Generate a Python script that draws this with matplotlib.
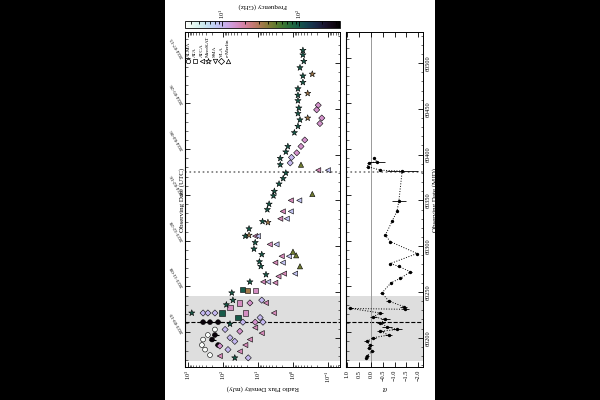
import matplotlib
matplotlib.use("Agg")
import matplotlib.pyplot as plt
from matplotlib.colors import LogNorm
from matplotlib.patches import Rectangle
from matplotlib.ticker import MultipleLocator, FixedLocator, LogLocator, NullFormatter

plt.rcParams["font.family"] = ["Liberation Serif", "DejaVu Serif"]
plt.rcParams["mathtext.fontset"] = "stix"
plt.rcParams["font.size"] = 4.5

# ---- flux density data (MJD, mJy, GHz) ----
star_mjd = [60514, 60509, 60502, 60495, 60486, 60479, 60472, 60465, 60459, 60451, 60445, 60438,
            60431, 60424, 60409, 60403, 60396, 60389, 60380, 60374, 60368, 60360, 60355, 60346,
            60340, 60327, 60319, 60311, 60304, 60297, 60291, 60283, 60278, 60269, 60261, 60249,
            60241, 60227, 60178, 60236, 60215]
star_flux = [0.52, 0.52, 0.49, 0.63, 0.52, 0.52, 0.72, 0.72, 0.72, 0.68, 0.72, 0.63,
             0.72, 0.91, 1.4, 1.6, 2.3, 2.3, 1.6, 1.9, 2.5, 3.4, 3.6, 4.8,
             5.4, 7.4, 18, 23, 12, 13, 7.8, 9.1, 8.3, 5.9, 17, 56,
             52, 780, 46, 80, 63]
star_freq = [97.5] * len(star_mjd)

star2_mjd = [60488, 60467, 60440, 60312, 60326]
star2_flux = [0.28, 0.38, 0.38, 18, 5.2]
star2_freq = [33] * len(star2_mjd)

vla_mjd = [60454, 60449, 60440, 60434, 60416, 60409, 60402, 60397, 60391,
           60227, 60227, 60227, 60222, 60217, 60217, 60217, 60209, 60207, 60200,
           60196, 60191, 60187, 60178, 60238, 60241]
vla_flux = [0.19, 0.21, 0.15, 0.17, 0.46, 0.59, 0.78, 1.1, 1.2,
            370, 270, 170, 8.7, 27, 12, 7.2, 87, 33, 63,
            46, 123, 72, 19, 17, 7.8]
vla_freq = [15, 15, 15, 15, 15, 15, 15, 10, 10,
            10, 10, 10, 10, 10, 15, 10, 10, 15, 10,
            10, 15, 10, 10, 15, 10]

atca_mjd = [60383, 60350, 60338, 60330, 60311, 60302, 60289, 60282, 60270, 60267, 60261, 60260,
            60383, 60350, 60338, 60330, 60311, 60302, 60289, 60282, 60270, 60261,
            60238, 60227, 60205, 60198, 60192, 60185, 60211, 60180]
atca_flux = [0.19, 1.15, 1.95, 2.3, 12, 4.6, 2.1, 3.2, 1.8, 2.6, 7.1, 3.2,
             0.10, 0.66, 1.15, 1.5, 10, 2.95, 1.3, 1.95, 0.87, 5.1,
             5.9, 3.5, 7.8, 17, 23, 33, 12, 123]
atca_freq = [17] * 12 + [9] * 10 + [17] * 8

tri_mjd = [60357, 60389, 60294, 60290, 60278]
tri_flux = [0.28, 0.59, 1.0, 0.81, 0.63]
tri_freq = [45] * len(tri_mjd)

ata_mjd = [60253, 60252, 60252, 60238, 60233, 60227, 60222, 60227]
ata_flux = [28, 20, 12, 33, 63, 107, 37, 23]
ata_freq = [97.5, 33, 16, 16, 16, 97.5, 97.5, 16]

alma_mjd = [60217, 60217, 60217, 60203, 60198, 60192]
alma_flux = [370, 235, 138, 170, 205, 138]
alma_ferr = [120, 80, 40, 40, 50, 30]
alma_freq = [300] * len(alma_mjd)

low_mjd = [60209, 60203, 60198, 60192, 60187, 60181]
low_flux = [170, 270, 370, 400, 325, 235]
low_freq = [3.5] * len(low_mjd)

# ---- spectral index data ----
alpha_mjd = [60396, 60392, 60391, 60387, 60383, 60382, 60349, 60338, 60327, 60312, 60305, 60292,
             60281, 60278, 60272, 60265, 60260, 60249, 60240, 60234, 60231, 60232, 60227, 60223,
             60220, 60216, 60212, 60209, 60207, 60203, 60200, 60196, 60192, 60189, 60185, 60180,
             60178]
alpha_val = [-0.14, -0.26, 0.10, 0.14, -0.40, -1.32, -1.18, -1.10, -0.89, -0.61, -0.82, -1.95,
             -0.82, -1.17, -1.67, -1.25, -0.85, -0.47, -0.75, -1.39, -1.46, 0.87, -0.40, -0.11,
             -0.61, -0.40, -0.68, -1.11, -0.40, -0.75, -0.11, 0.17, 0.03, 0.10, -0.04, 0.17,
             0.19]
alpha_err = [0.05, 0.35, 0.05, 0.05, 0.05, 0.66, 0.3, 0.05, 0.05, 0.05, 0.05, 0.05,
             0.05, 0.05, 0.05, 0.05, 0.05, 0.08, 0.1, 0.15, 0.15, 0.1, 0.1, 0.15,
             0.2, 0.15, 0.2, 0.2, 0.15, 0.15, 0.1, 0.1, 0.1, 0.08, 0.08, 0.08,
             0.05]

utc_mjd = [60206, 60256, 60306, 60356, 60406, 60456, 60506]
utc_labels = ["2023-09-19", "2023-11-08", "2023-12-28", "2024-02-16",
              "2024-04-06", "2024-05-26", "2024-07-15"]

legend_names = ["ALMA", "ATA", "ATCA", "MeerKAT", "SMA", "VLA", "e-Merlin"]
legend_markers = ["o", "s", "<", "*", "v", "D", "^"]

flare_span = (60175, 60246)
flare_line = 60217.5
gap_line = 60381

# ---- figure ----
fig = plt.figure(figsize=(6, 4), dpi=100, facecolor="black")
fig.patches.append(Rectangle((0.275, 0), 0.45, 1, transform=fig.transFigure,
                             facecolor="white", edgecolor="none", zorder=-10))

ax = fig.add_axes([0.3083, 0.0825, 0.2583, 0.8375])
ax2 = fig.add_axes([0.5767, 0.0825, 0.1283, 0.8375], sharey=ax)
cax = fig.add_axes([0.3083, 0.93, 0.2583, 0.0175])

norm = LogNorm(3.3, 340)
cmap = plt.get_cmap("cubehelix_r")

ymin, ymax = 60168, 60534
for a in (ax, ax2):
    a.axhspan(*flare_span, color="#dedede", lw=0, zorder=0)
    a.axhline(flare_line, color="k", ls="--", lw=0.8, zorder=1)
    a.axhline(gap_line, color="#777777", ls=":", lw=1.2, zorder=1)

ax.errorbar(alma_flux, alma_mjd, xerr=alma_ferr, fmt="none", ecolor="k", elinewidth=0.8, zorder=2)
groups = [
    (low_flux, low_mjd, low_freq, "o", 12),
    (alma_flux, alma_mjd, alma_freq, "o", 12),
    (ata_flux, ata_mjd, ata_freq, "s", 14),
    (vla_flux, vla_mjd, vla_freq, "D", 10),
    (atca_flux, atca_mjd, atca_freq, "<", 14),
    (tri_flux, tri_mjd, tri_freq, "^", 14),
    (star_flux, star_mjd, star_freq, "*", 22),
    (star2_flux, star2_mjd, star2_freq, "*", 22),
]
for fx, mj, fq, mk, sz in groups:
    sc = ax.scatter(fx, mj, c=fq, cmap=cmap, norm=norm, marker=mk, s=sz,
                    edgecolors="k", linewidths=0.4, zorder=3)

ax.set_xscale("log")
ax.set_xlim(1219, 0.0454)
ax.set_ylim(ymin, ymax)
ax.xaxis.set_major_locator(LogLocator(base=10, numticks=10))
ax.xaxis.set_minor_locator(LogLocator(base=10, subs=range(2, 10), numticks=20))
ax.xaxis.set_minor_formatter(NullFormatter())
ax.tick_params(axis="x", which="both", direction="in", top=True, bottom=True, labelrotation=90, pad=2)
ax.tick_params(axis="x", which="major", length=3.5, width=0.6)
ax.tick_params(axis="x", which="minor", length=1.8, width=0.4)
ax.set_xlabel("Radio Flux Density (mJy)", rotation=180, fontsize=5, labelpad=2)

ax.yaxis.set_major_locator(MultipleLocator(50))
ax.yaxis.set_minor_locator(MultipleLocator(10))
ax.tick_params(axis="y", which="both", direction="in", left=False, right=True,
               labelleft=False, labelright=False)
ax.tick_params(axis="y", which="major", length=3.5, width=0.6)
ax.tick_params(axis="y", which="minor", length=1.8, width=0.4)

sec = ax.secondary_yaxis("left")
sec.yaxis.set_major_locator(FixedLocator(utc_mjd))
sec.set_yticklabels(utc_labels, rotation=120, rotation_mode="anchor", ha="left", va="center",
                    fontsize=3.6)
sec.yaxis.set_minor_locator(FixedLocator([m for m in range(60176, 60534, 10)]))
sec.tick_params(which="both", direction="in")
sec.tick_params(which="major", length=3.5, width=0.6, pad=1.5)
sec.tick_params(which="minor", length=1.8, width=0.4)
sec.set_ylabel("Observing Date (UTC)", fontsize=5)
sec.yaxis.set_label_coords(-0.105, 0.5)

# legend drawn in axes fraction
for i, (name, mk) in enumerate(zip(legend_names, legend_markers)):
    lx = (188.5 + 6.6 * i - 185) / 155
    ax.scatter([lx], [0.912], marker=mk, s=10 if mk != "*" else 18, facecolor="white",
               edgecolors="k", linewidths=0.5, transform=ax.transAxes, zorder=5, clip_on=False)
    ax.text(lx, 0.925, name, rotation=90, ha="center", va="bottom", fontsize=3.8,
            transform=ax.transAxes)

# spectral index panel
ax2.axvline(0, color="#999999", lw=0.7, zorder=1)
ax2.errorbar(alpha_val, alpha_mjd, xerr=alpha_err, fmt="o:", ms=1.4, color="k",
             lw=0.7, elinewidth=0.6, capsize=0, zorder=3)
ax2.set_xlim(1.05, -2.2)
ax2.xaxis.set_major_locator(MultipleLocator(0.5))
ax2.tick_params(axis="x", which="both", direction="in", top=True, bottom=True, labelrotation=90,
                length=3.5, width=0.6, pad=2)
ax2.set_xlabel(r"$\alpha$", rotation=180, fontsize=5.5, labelpad=2)
ax2.tick_params(axis="y", which="both", direction="in", left=False, right=True,
                labelleft=False, labelright=True, labelrotation=90, pad=2)
ax2.tick_params(axis="y", which="major", length=3.5, width=0.6)
ax2.tick_params(axis="y", which="minor", length=1.8, width=0.4)
for lab in ax2.get_yticklabels():
    lab.set_va("center")
ax2.yaxis.set_label_position("right")
ax2.set_ylabel("Observing Date (MJD)", fontsize=5, rotation=90, labelpad=1)

sec2 = ax2.secondary_yaxis("left")
sec2.yaxis.set_major_locator(FixedLocator(utc_mjd))
sec2.yaxis.set_minor_locator(FixedLocator([m for m in range(60176, 60534, 10)]))
sec2.tick_params(which="both", direction="in", labelleft=False)
sec2.tick_params(which="major", length=3.5, width=0.6)
sec2.tick_params(which="minor", length=1.8, width=0.4)

for a in (ax, ax2, cax):
    for s in a.spines.values():
        s.set_linewidth(0.7)

cb = fig.colorbar(sc, cax=cax, orientation="horizontal")
cax.xaxis.set_ticks_position("top")
cax.xaxis.set_label_position("top")
cax.tick_params(which="both", direction="in", labelrotation=90, width=0.6, pad=1.5)
cb.outline.set_linewidth(0.6)
cb.set_label("Frequency (GHz)", rotation=180, fontsize=5, labelpad=1)

fig.savefig("out.png", dpi=100, facecolor=fig.get_facecolor())
